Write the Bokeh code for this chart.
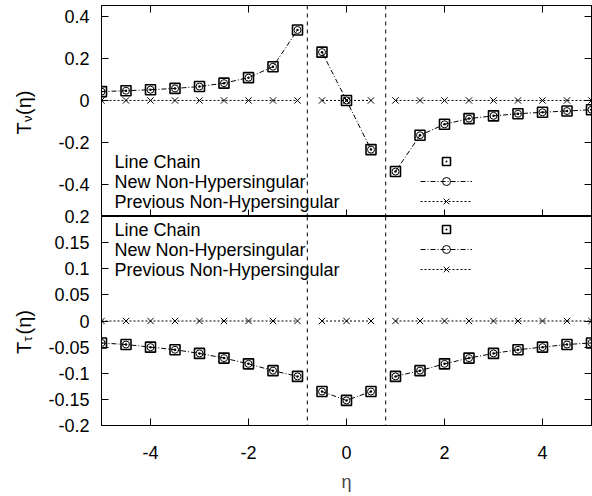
import math
from bokeh.plotting import figure
from bokeh.models import Range1d, FixedTicker, LinearAxis, Span, Label, Legend, LegendItem
from bokeh.layouts import column, row
from bokeh.core.properties import value
from bokeh.embed import file_html
from bokeh.resources import INLINE

# ---------------- data ----------------
eta = [-5.0, -4.5, -4.0, -3.5, -3.0, -2.5, -2.0, -1.5, -1.0, -0.5, 0.0,
       0.5, 1.0, 1.5, 2.0, 2.5, 3.0, 3.5, 4.0, 4.5, 5.0]

tn_line_chain = [0.042, 0.046, 0.051, 0.057, 0.066, 0.082, 0.108, 0.160, 0.334, 0.229, 0.0,
                 -0.233, -0.337, -0.165, -0.113, -0.086, -0.073, -0.063, -0.056, -0.050, -0.044]
tn_new = [0.042, 0.046, 0.051, 0.057, 0.066, 0.082, 0.108, 0.160, 0.334, 0.229, 0.0,
          -0.233, -0.337, -0.165, -0.113, -0.086, -0.073, -0.063, -0.056, -0.050, -0.044]
tn_prev = [0.0, 0.0, 0.0, 0.0, 0.0, 0.0, 0.0, 0.0, 0.0, 0.0, 0.0,
           0.0, 0.0, 0.0, 0.0, 0.0, 0.0, 0.0, 0.0, 0.0, 0.0]

tt_line_chain = [-0.042, -0.045, -0.050, -0.055, -0.062, -0.071, -0.082, -0.095, -0.106, -0.135, -0.152,
                 -0.135, -0.106, -0.095, -0.082, -0.071, -0.062, -0.055, -0.050, -0.045, -0.042]
tt_new = [-0.042, -0.045, -0.050, -0.055, -0.062, -0.071, -0.082, -0.095, -0.106, -0.135, -0.152,
          -0.135, -0.106, -0.095, -0.082, -0.071, -0.062, -0.055, -0.050, -0.045, -0.042]
tt_prev = [0.0, 0.0, 0.0, 0.0, 0.0, 0.0, 0.0, 0.0, 0.0, 0.0, 0.0,
           0.0, 0.0, 0.0, 0.0, 0.0, 0.0, 0.0, 0.0, 0.0, 0.0]

breaks = [-0.8, 0.8]

x_ticks = [-4, -2, 0, 2, 4]
x_tick_labels = ["-4", "-2", "0", "2", "4"]
tn_ticks = [-0.4, -0.2, 0.0, 0.2, 0.4]
tn_tick_labels = ["-0.4", "-0.2", "0", "0.2", "0.4"]
tt_ticks = [-0.2, -0.15, -0.1, -0.05, 0.0, 0.05, 0.1, 0.15, 0.2]
tt_tick_labels = ["-0.2", "-0.15", "-0.1", "-0.05", "0", "0.05", "0.1", "0.15", "0.2"]

series_names = ["Line Chain", "New Non-Hypersingular", "Previous Non-Hypersingular"]
ylabel_top = ["T", "\u03bd", "(\u03b7)"]
ylabel_bottom = ["T", "\u03c4", "(\u03b7)"]

FONT = "Liberation Sans"
FS = "18px"


def with_breaks(xs, ys):
    ox, oy = [], []
    for i, (x, y) in enumerate(zip(xs, ys)):
        if i > 0 and any(xs[i - 1] < b < x for b in breaks):
            ox.append(math.nan)
            oy.append(math.nan)
        ox.append(x)
        oy.append(y)
    return ox, oy


def style_axis(ax, ticks, labels=None):
    ax.ticker = FixedTicker(ticks=ticks)
    ax.major_tick_in = 7
    ax.major_tick_out = 0
    ax.minor_tick_in = 0
    ax.minor_tick_out = 0
    ax.major_tick_line_color = "black"
    ax.axis_line_color = "black"
    if labels is None:
        ax.major_label_text_font_size = "0px"
        ax.major_label_text_color = None
        ax.major_label_standoff = 0
    else:
        ax.major_label_overrides = dict(zip(ticks, labels))
        ax.major_label_text_font = FONT
        ax.major_label_text_font_size = FS
        ax.major_label_text_color = "black"


xr = Range1d(-5, 5)


def make_panel(height, yr, yticks, ylabels, lc, new, prev, bottom_panel,
               legend_y, text_ys, border_top, border_bottom):
    p = figure(width=552, height=height, x_range=xr, y_range=yr,
               output_backend="svg", toolbar_location=None,
               min_border_left=61, min_border_right=1, min_border_top=border_top,
               min_border_bottom=border_bottom,
               background_fill_color="white", border_fill_color="white")
    p.grid.visible = False
    p.outline_line_color = "black"
    p.outline_line_width = 1

    if bottom_panel:
        style_axis(p.xaxis[0], x_ticks, x_tick_labels)
        p.xaxis[0].major_label_standoff = 20
        p.xaxis[0].axis_label = "\u03b7"
        p.xaxis[0].axis_label_text_font = FONT
        p.xaxis[0].axis_label_text_font_size = FS
        p.xaxis[0].axis_label_text_font_style = "normal"
        p.xaxis[0].axis_label_standoff = 10
        p.border_fill_alpha = 0
    else:
        style_axis(p.xaxis[0], x_ticks)
        top_ax = LinearAxis()
        style_axis(top_ax, x_ticks)
        p.add_layout(top_ax, "above")
    style_axis(p.yaxis[0], yticks, ylabels)
    p.yaxis[0].major_label_standoff = 12
    right_ax = LinearAxis()
    style_axis(right_ax, yticks)
    p.add_layout(right_ax, "right")

    for b in breaks:
        p.add_layout(Span(location=b, dimension="height", line_color="black",
                          line_width=1, line_dash="4 4"))

    px, py = with_breaks(eta, prev)
    prev_line = p.line(px, py, line_color="black", line_width=1, line_dash="2 2")
    prev_pts = p.scatter(eta, prev, marker="x", size=9, line_color="black", line_width=1)

    nx, ny = with_breaks(eta, new)
    new_line = p.line(nx, ny, line_color="black", line_width=1, line_dash="5 2 1 2")
    new_pts = p.scatter(eta, new, marker="circle", size=7, line_color="black",
                        fill_color=None, line_width=1)

    lc_pts = p.scatter(eta, lc, marker="square_dot", size=10, line_color="black",
                       fill_color=None, line_width=1.6)

    legend = Legend(items=[
        LegendItem(label=" ", renderers=[lc_pts]),
        LegendItem(label=" ", renderers=[new_line, new_pts]),
        LegendItem(label=" ", renderers=[prev_line, prev_pts]),
    ], location=(319, legend_y), glyph_width=52, glyph_height=20, label_height=20,
        label_width=0, spacing=0, padding=0, margin=0, label_standoff=0,
        border_line_color=None, background_fill_alpha=0, label_text_font_size="2px")
    p.add_layout(legend)

    for name, ty in zip(series_names, text_ys):
        p.add_layout(Label(x=13, y=ty, x_units="screen", y_units="screen", text=name,
                           text_font=FONT, text_font_size=FS, text_color="black",
                           text_baseline="middle", text_align="left"))
    return p


# top panel frame: y 5..216 ; bottom panel frame: y 216..429
top = make_panel(216, Range1d(-0.55, 0.45), tn_ticks, tn_tick_labels,
                 tn_line_chain, tn_new, tn_prev, False, 5, [55, 35, 15], 5, 0)
bottom = make_panel(290, Range1d(-0.2, 0.2), tt_ticks, tt_tick_labels,
                    tt_line_chain, tt_new, tt_prev, True, 146, [196, 176, 156], 12, 65)
bottom.styles = {"margin-top": "-12px"}

# rotated y-axis titles, drawn in a narrow strip to the left of the panels
H = 494
yl = figure(width=40, height=H, x_range=Range1d(0, 40), y_range=Range1d(0, H),
            output_backend="svg", toolbar_location=None, min_border=0,
            x_axis_location=None, y_axis_location=None,
            background_fill_color="white", border_fill_color="white")
yl.outline_line_color = None
yl.grid.visible = False
for parts, base in ((ylabel_top, 134.0), (ylabel_bottom, 353.5)):
    yl.text(x=[23.5], y=[H - base], text=[parts[0]], angle=math.pi / 2,
            text_font=value(FONT), text_font_size="20px", text_color="black",
            text_baseline="middle", text_align="left")
    yl.text(x=[27], y=[H - base + 12.5], text=[parts[1]], angle=math.pi / 2,
            text_font=value(FONT), text_font_size="13px", text_color="black",
            text_baseline="middle", text_align="left")
    yl.text(x=[23.5], y=[H - base + 19.5], text=[parts[2]], angle=math.pi / 2,
            text_font=value(FONT), text_font_size="20px", text_color="black",
            text_baseline="middle", text_align="left")

layout = row(yl, column(top, bottom, spacing=0), spacing=0)
open("out.html", "w").write(file_html(layout, INLINE))
